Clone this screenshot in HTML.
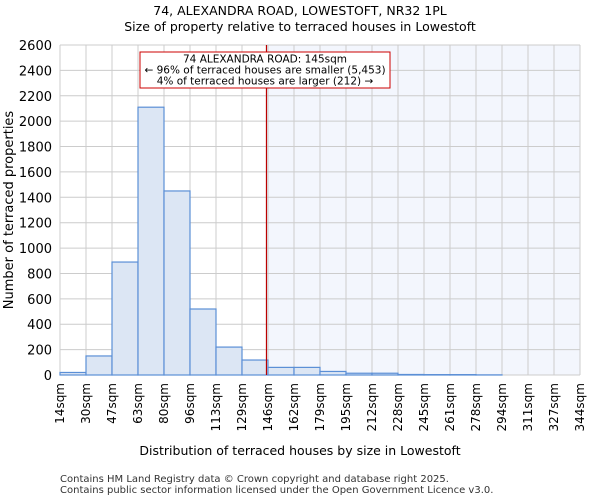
<!DOCTYPE html>
<html><head><meta charset="utf-8"><style>
body{margin:0;background:#fff;font-family:"DejaVu Sans","Liberation Sans",sans-serif}
</style></head><body>
<svg id="c" width="600" height="500" xmlns="http://www.w3.org/2000/svg" font-family="DejaVu Sans, Liberation Sans, sans-serif">
<text x="300" y="15" text-anchor="middle" font-size="12.5">74, ALEXANDRA ROAD, LOWESTOFT, NR32 1PL</text>
<text x="300" y="31" text-anchor="middle" font-size="12.5">Size of property relative to terraced houses in Lowestoft</text>
<g id="plot"></g>
<text x="300" y="455" text-anchor="middle" font-size="12.5">Distribution of terraced houses by size in Lowestoft</text>
<text transform="translate(13,210) rotate(-90)" text-anchor="middle" font-size="13">Number of terraced properties</text>
<text x="60" y="482" font-size="10" fill="#333">Contains HM Land Registry data © Crown copyright and database right 2025.</text>
<text x="60" y="493" font-size="10" fill="#333">Contains public sector information licensed under the Open Government Licence v3.0.</text>
</svg>
<script>
const edges=[14,30,47,63,80,96,113,129,146,162,179,195,212,228,245,261,278,294,311,327,344];
const counts=[20,150,890,2110,1450,520,220,118,60,60,28,14,14,4,3,3,1,0,0,0];
const yTicks=[0,200,400,600,800,1000,1200,1400,1600,1800,2000,2200,2400,2600];
const subjectSize=145;
const X0=60,X1=580,Y0=375,Y1=45,YMAX=2600;
const n=edges.length-1;
function xi(i){return X0+(X1-X0)*i/n;}
function xv(v){for(let i=0;i<n;i++){if(v<=edges[i+1])return xi(i)+(v-edges[i])/(edges[i+1]-edges[i])*(xi(i+1)-xi(i));}return X1;}
function y(v){return Y0-(Y0-Y1)*v/YMAX;}
const NS="http://www.w3.org/2000/svg",g=document.getElementById('plot');
function mk(t,a){const e=document.createElementNS(NS,t);for(const k in a)e.setAttribute(k,a[k]);g.appendChild(e);return e;}
const sx=xv(subjectSize);
let e=mk('rect',{x:sx,y:Y1,width:X1-sx,height:Y0-Y1,fill:'#f3f6fd'});


for(let i=0;i<=n;i++){e=mk('line',{x1:xi(i),x2:xi(i),y1:Y1,y2:Y0,stroke:'#ccc','stroke-width':1});

}
yTicks.forEach(t=>{e=mk('line',{x1:X0,x2:X1,y1:y(t),y2:y(t),stroke:'#ccc','stroke-width':1});


e=mk('text',{x:X0-8,y:y(t)+5,'text-anchor':'end','font-size':13});e.textContent=t;

});
counts.forEach((c,i)=>{if(c<=0)return;e=mk('rect',{x:xi(i),y:y(c),width:xi(i+1)-xi(i),height:Y0-y(c),fill:'#dce6f4',stroke:'#5b8fd6','stroke-width':1.2});

});
edges.forEach((v,i)=>{e=mk('text',{transform:`translate(${xi(i)+4},${Y0+8}) rotate(-90)`,'text-anchor':'end','font-size':12});e.textContent=v+'sqm';

});
e=mk('line',{x1:sx,x2:sx,y1:Y1,y2:Y0,stroke:'#b00','stroke-width':1.2});


e=mk('rect',{x:140,y:52,width:250,height:36,fill:'#fff',stroke:'#c00','stroke-width':1});


["74 ALEXANDRA ROAD: 145sqm","← 96% of terraced houses are smaller (5,453)","4% of terraced houses are larger (212) →"].forEach((s,k)=>{e=mk('text',{x:265,y:62.5+k*11,'text-anchor':'middle','font-size':10.5});e.textContent=s;

});
</script>
</body></html>
